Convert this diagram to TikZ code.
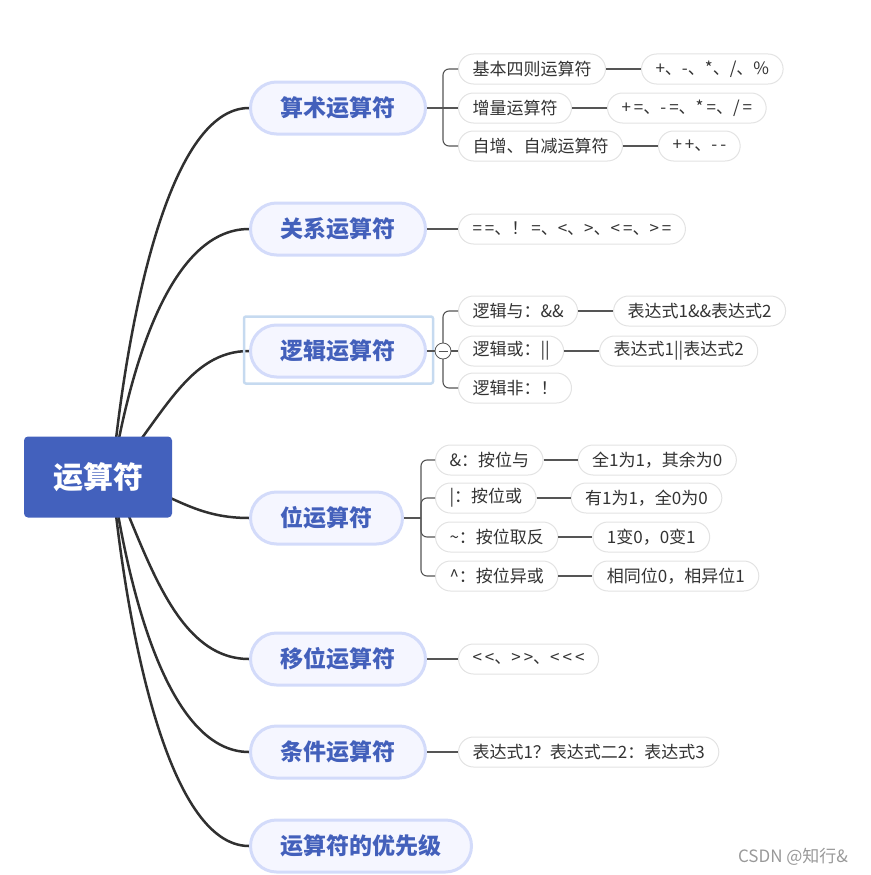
\documentclass[tikz,border=0pt]{standalone}
\usepackage{fontspec}
\setmainfont{Noto Sans CJK SC}
\usetikzlibrary{positioning,backgrounds}

\definecolor{rootblue}{HTML}{4361BD}
\definecolor{branchtext}{HTML}{4360BB}
\definecolor{branchfill}{HTML}{F5F6FF}
\definecolor{branchline}{HTML}{D3DBFA}
\definecolor{leafline}{HTML}{E3E3E3}
\definecolor{leaftext}{HTML}{333333}
\definecolor{selline}{HTML}{C6DAF0}
\definecolor{twigline}{HTML}{555555}
\definecolor{trunkline}{HTML}{303030}

\newcommand{\opgap}{\kern3pt}

\begin{document}
\begin{tikzpicture}[x=1pt,y=1pt,node distance=35pt]
	\tikzstyle{root}=[rectangle, rounded corners=4pt, fill=rootblue, text=white, minimum width=148pt, minimum height=81pt, font=\fontsize{30}{34}\selectfont\bfseries]
	\tikzstyle{branch}=[rectangle, rounded corners=26pt, draw=branchline, line width=3pt, fill=branchfill, text=branchtext, minimum height=52pt, inner xsep=30pt, anchor=west, font=\fontsize{23}{26}\selectfont\bfseries]
	\tikzstyle{leaf}=[rectangle, rounded corners=15pt, draw=leafline, line width=1pt, fill=white, text=leaftext, minimum height=30pt, inner xsep=14pt, inner ysep=2pt, anchor=west, font=\fontsize{17}{20}\selectfont]
	\tikzstyle{twig}=[draw=twigline, line width=1.1pt]
	\tikzstyle{trunk}=[draw=trunkline, line width=2.5pt]
	\tikzstyle{fold}=[circle, draw=twigline, fill=white, line width=0.8pt, minimum size=16pt, inner sep=0pt]
	\tikzstyle{selbox}=[draw=selline, line width=2.5pt, rounded corners=2pt]
	\tikzstyle{wmark}=[text=black!40, font=\fontsize{17}{20}\selectfont]

	\useasboundingbox (0,0) rectangle (870,-875);

	% root and main branches
	\node [root] (root) at (98,-477) {运算符};
	\node [branch] (b1) at (249,-108) {算术运算符};
	\node [branch] (b2) at (249,-229) {关系运算符};
	\node [branch] (b3) at (249,-351) {逻辑运算符};
	\node [branch] (b4) at (249,-518) {位运算符};
	\node [branch] (b5) at (249,-659) {移位运算符};
	\node [branch] (b6) at (249,-752) {条件运算符};
	\node [branch] (b7) at (249,-846) {运算符的优先级};
	\draw [selbox] ([xshift=-5pt,yshift=7pt]b3.north west) rectangle ([xshift=6pt,yshift=-5pt]b3.south east);

	\begin{scope}[on background layer]
		\draw [trunk] ([xshift=14pt]root.center) .. controls +(14,148) and +(-82,0) .. (b1.west);
		\draw [trunk] ([xshift=14pt]root.center) .. controls +(16,99) and +(-82,0) .. (b2.west);
		\draw [trunk] ([xshift=14pt]root.center) .. controls +(52,62) and +(-60,0) .. (b3.west);
		\draw [trunk] ([xshift=14pt]root.center) .. controls +(58,-13) and +(-59,0) .. (b4.west);
		\draw [trunk] ([xshift=14pt]root.center) .. controls +(34,-73) and +(-75,0) .. (b5.west);
		\draw [trunk] ([xshift=14pt]root.center) .. controls +(16,-110) and +(-82,0) .. (b6.west);
		\draw [trunk] ([xshift=14pt]root.center) .. controls +(14,-148) and +(-82,0) .. (b7.west);
	\end{scope}

	% 算术运算符
	\node [leaf] (c11) at (458,-69) {基本四则运算符};
	\node [leaf] (c12) at (458,-108) {增量运算符};
	\node [leaf] (c13) at (458,-146) {自增、自减运算符};
	\node [leaf] (g11) [right=of c11] {+、-、*、/、\%};
	\node [leaf] (g12) [right=of c12] {+\opgap=、-\opgap=、*\opgap=、/\opgap=};
	\node [leaf] (g13) [right=of c13] {+\opgap+、-\opgap-};
	\coordinate (k1) at ([xshift=16pt]b1.east);
	\draw [twig] (b1.east) -- (k1) -- (c12.west);
	\draw [twig, rounded corners=6pt] (c11.west) -| (k1) |- (c13.west);
	\draw [twig] (c11.east) -- (g11.west);
	\draw [twig] (c12.east) -- (g12.west);
	\draw [twig] (c13.east) -- (g13.west);

	% 关系运算符
	\node [leaf] (c21) at (458,-229) {=\opgap=、！\opgap=、<、>、<\opgap=、>\opgap=};
	\draw [twig] (b2.east) -- (c21.west);

	% 逻辑运算符
	\node [leaf] (c31) at (458,-311) {逻辑与：\&\&};
	\node [leaf] (c32) at (458,-351) {逻辑或：||};
	\node [leaf] (c33) at (458,-388) {逻辑非：！};
	\node [leaf] (g31) [right=of c31] {表达式1\&\&表达式2};
	\node [leaf] (g32) [right=of c32] {表达式1||表达式2};
	\coordinate (k3) at ([xshift=16pt]b3.east);
	\draw [twig] (b3.east) -- (k3) -- (c32.west);
	\draw [twig, rounded corners=6pt] (c31.west) -| (k3) |- (c33.west);
	\draw [twig] (c31.east) -- (g31.west);
	\draw [twig] (c32.east) -- (g32.west);
	\node [fold] (f3) at (k3) {};
	\draw [twig, line width=0.8pt] ([xshift=-4.5pt]f3.center) -- ([xshift=4.5pt]f3.center);

	% 位运算符
	\node [leaf] (c41) at (435,-460) {\&：按位与};
	\node [leaf] (c42) at (435,-498) {|：按位或};
	\node [leaf] (c43) at (435,-537) {\textasciitilde：按位取反};
	\node [leaf] (c44) at (435,-576) {\textasciicircum：按位异或};
	\node [leaf] (g41) [right=34pt of c41] {全1为1，其余为0};
	\node [leaf] (g42) [right=34pt of c42] {有1为1，全0为0};
	\node [leaf] (g43) [right=34pt of c43] {1变0，0变1};
	\node [leaf] (g44) [right=34pt of c44] {相同位0，相异位1};
	\coordinate (k4) at ([xshift=17pt]b4.east);
	\draw [twig] (b4.east) -- (k4);
	\draw [twig, rounded corners=6pt] (c41.west) -| (k4) |- (c44.west);
	\draw [twig, rounded corners=6pt] (k4) |- (c42.west);
	\draw [twig, rounded corners=6pt] (k4) |- (c43.west);
	\draw [twig] (c41.east) -- (g41.west);
	\draw [twig] (c42.east) -- (g42.west);
	\draw [twig] (c43.east) -- (g43.west);
	\draw [twig] (c44.east) -- (g44.west);

	% 移位运算符, 条件运算符
	\node [leaf] (c51) at (458,-659) {<\opgap<、>\opgap>、<\opgap<\opgap<};
	\draw [twig] (b5.east) -- (c51.west);
	\node [leaf] (c61) at (458,-752) {表达式1？表达式二2：表达式3};
	\draw [twig] (b6.east) -- (c61.west);

	\node [wmark] (wm) at (793,-857) {CSDN @知行\&};
\end{tikzpicture}
\end{document}
